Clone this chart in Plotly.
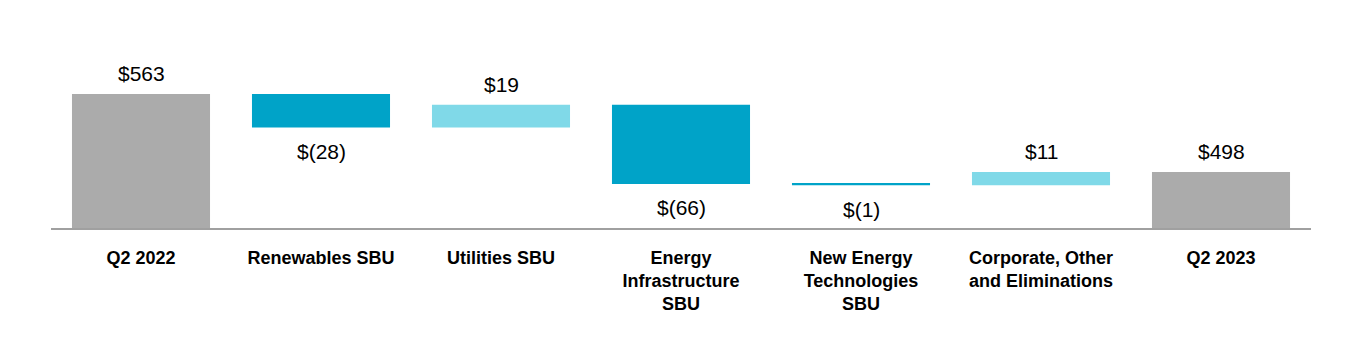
import plotly.graph_objects as go

categories = ["Q2 2022", "Renewables SBU", "Utilities SBU", "Energy<br>Infrastructure<br>SBU",
              "New Energy<br>Technologies<br>SBU", "Corporate, Other<br>and Eliminations", "Q2 2023"]
values = [563, -28, 19, -66, -1, 11, 498]
measures = ["absolute", "relative", "relative", "relative", "relative", "relative", "total"]
labels = ["$563", "$(28)", "$19", "$(66)", "$(1)", "$11", "$498"]

GRAY = "#ababab"
DARK = "#00a3c8"
LIGHT = "#80d9e8"

fig = go.Figure()
fig.add_trace(go.Waterfall(
    x=categories, y=values, measure=measures,
    width=[0.767] * len(categories),
    increasing=dict(marker=dict(color=LIGHT)),
    decreasing=dict(marker=dict(color=DARK)),
    totals=dict(marker=dict(color=GRAY)),
    connector=dict(visible=False),
    textinfo="none", hoverinfo="skip",
))

# value labels positioned from cumulative values
cum = 0
for cat, v, m, lab in zip(categories, values, measures, labels):
    if m == "absolute":
        start, end = 0, v
        cum = v
    elif m == "total":
        start, end = 0, cum
    else:
        start, end = cum, cum + v
        cum = end
    if v >= 0:
        fig.add_annotation(x=cat, y=max(start, end), text=lab, showarrow=False,
                           yanchor="middle", yshift=20,
                           font=dict(size=21, color="#000000", family="Liberation Sans, Arial"))
    else:
        fig.add_annotation(x=cat, y=min(start, end), text=lab, showarrow=False,
                           yanchor="middle", yshift=-24,
                           font=dict(size=21, color="#000000", family="Liberation Sans, Arial"))

fig.update_layout(
    width=1360, height=350,
    margin=dict(l=51, r=49, t=20, b=122),
    paper_bgcolor="white", plot_bgcolor="white",
    showlegend=False,
    font=dict(family="Liberation Sans, Arial", color="#000000"),
)
fig.update_xaxes(
    showline=True, linecolor="#a0a0a0", linewidth=2, showgrid=False,
    ticks="", ticklabelstandoff=12,
    tickfont=dict(size=18, family="Liberation Sans, Arial", color="#000000", weight="bold"),
    range=[-0.5, 6.5], fixedrange=True,
)
fig.update_yaxes(visible=False, range=[451.3, 624.6], showgrid=False, fixedrange=True)

fig.write_html("out.html", config={"displayModeBar": False})
